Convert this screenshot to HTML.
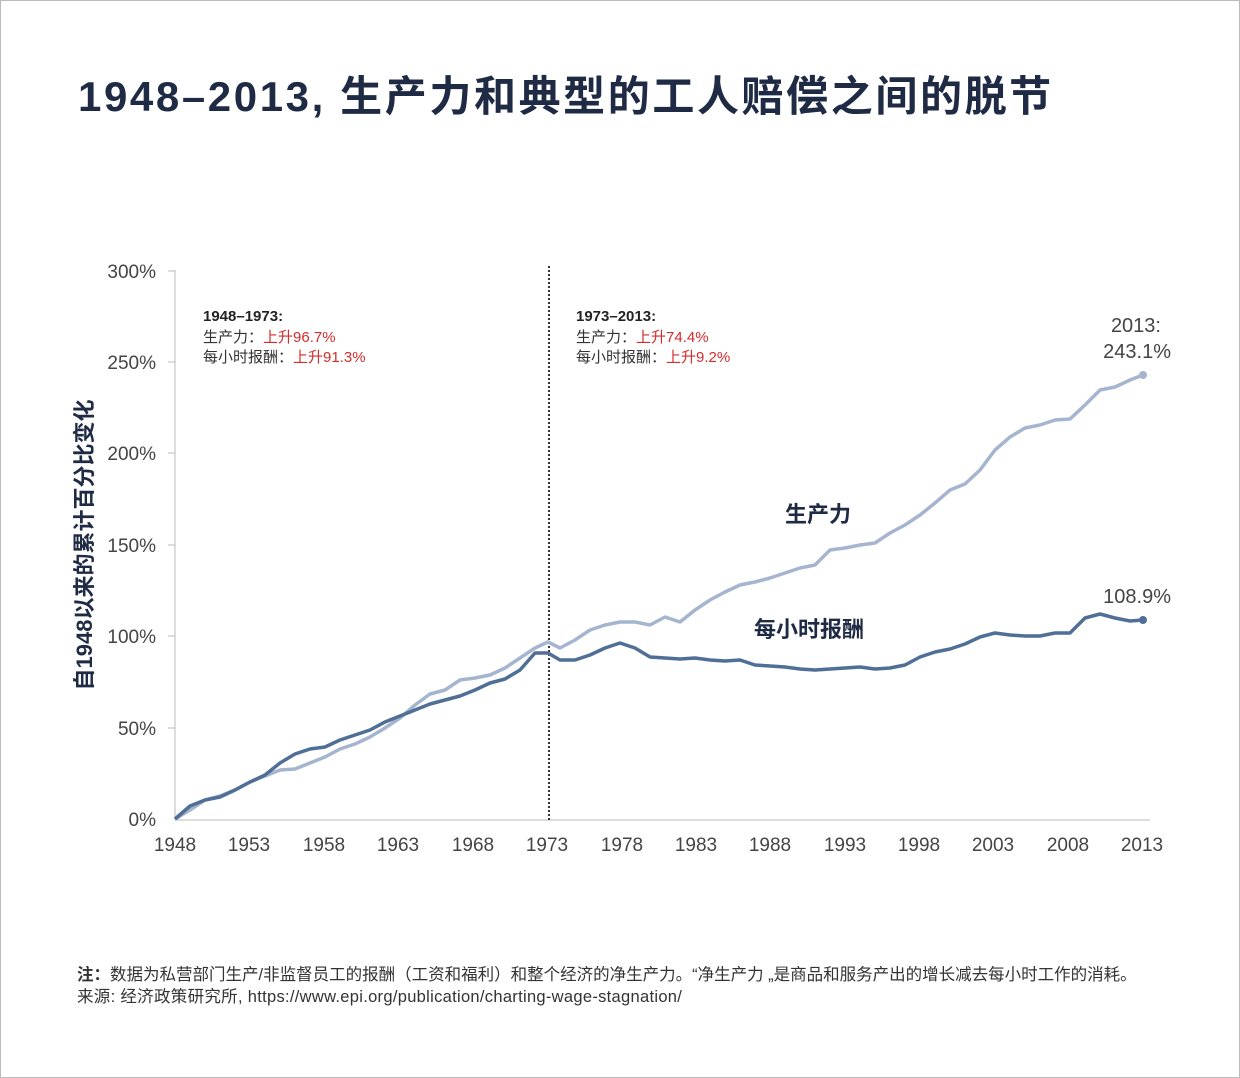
<!DOCTYPE html>
<html><head><meta charset="utf-8"><style>
body{margin:0;background:#fff;}
.wrap{position:relative;width:1238px;height:1076px;border:1px solid #b9bcbf;overflow:hidden;font-family:"Liberation Sans","Noto Sans CJK SC",sans-serif;}
.t{position:absolute;white-space:nowrap;}
</style></head><body><div class="wrap">
<div class="t" style="left:77px;top:62px;font-size:42px;font-weight:bold;color:#1f2a44;letter-spacing:2.6px;">1948–2013, 生产力和典型的工人赔偿之间的脱节</div>
<svg width="1240" height="1078" style="position:absolute;left:-1px;top:-1px" font-family="Liberation Sans, Noto Sans CJK SC, sans-serif">
<line x1="175" y1="270" x2="175" y2="820" stroke="#bbb"/>
<line x1="175" y1="820" x2="1150" y2="820" stroke="#bbb"/>
<g stroke="#bbb">
<line x1="168" y1="271" x2="175" y2="271"/><line x1="168" y1="362" x2="175" y2="362"/><line x1="168" y1="453" x2="175" y2="453"/><line x1="168" y1="545" x2="175" y2="545"/><line x1="168" y1="636" x2="175" y2="636"/><line x1="168" y1="728" x2="175" y2="728"/>
</g>
<g font-size="19" fill="#444" text-anchor="end">
<text x="156" y="278">300%</text><text x="156" y="369">250%</text><text x="156" y="460">200%</text><text x="156" y="552">150%</text><text x="156" y="643">100%</text><text x="156" y="735">50%</text><text x="156" y="826">0%</text>
</g>
<g font-size="19" fill="#444" text-anchor="middle">
<text x="175" y="851">1948</text><text x="249" y="851">1953</text><text x="324" y="851">1958</text><text x="398" y="851">1963</text><text x="473" y="851">1968</text><text x="547" y="851">1973</text><text x="622" y="851">1978</text><text x="696" y="851">1983</text><text x="770" y="851">1988</text><text x="845" y="851">1993</text><text x="919" y="851">1998</text><text x="993" y="851">2003</text><text x="1068" y="851">2008</text><text x="1142" y="851">2013</text>
</g>
<text transform="translate(92,545) rotate(-90)" font-size="22" font-weight="bold" fill="#1f2a44" text-anchor="middle">自1948以来的累计百分比变化</text>
<line x1="549" y1="266" x2="549" y2="820" stroke="#333" stroke-width="2" stroke-dasharray="2,2"/>
<polyline fill="none" stroke="#a6b5cf" stroke-width="3.5" stroke-linejoin="round" points="175,819 190,810 205,800 220,796 235,790 250,782 265,776 280,770 295,769 310,763 325,757 340,749 355,744 370,737 385,728 400,718 415,705 430,694 445,690 460,680 475,678 490,675 505,668 520,658 535,648 548,642 560,648 575,640 590,630 605,625 620,622 635,622 650,625 665,617 680,622 695,610 710,600 725,592 740,585 755,582 770,578 785,573 800,568 815,565 830,550 845,548 860,545 875,543 890,533 905,525 920,515 935,503 950,490 965,484 980,470 995,450 1010,437 1025,428 1040,425 1055,420 1070,419 1085,405 1100,390 1115,387 1130,380 1143,375"/>
<polyline fill="none" stroke="#4f6f96" stroke-width="3.5" stroke-linejoin="round" points="175,819 190,806 205,800 220,797 235,790 250,782 265,775 280,763 295,754 310,749 325,747 340,740 355,735 370,730 385,722 400,716 415,710 430,704 445,700 460,696 475,690 490,683 505,679 520,670 535,653 548,653 560,660 575,660 590,655 605,648 620,643 635,648 650,657 665,658 680,659 695,658 710,660 725,661 740,660 755,665 770,666 785,667 800,669 815,670 830,669 845,668 860,667 875,669 890,668 905,665 920,657 935,652 950,649 965,644 980,637 995,633 1010,635 1025,636 1040,636 1055,633 1070,633 1085,618 1100,614 1115,618 1130,621 1143,620"/>
<circle cx="1143" cy="375" r="4" fill="#a6b5cf"/>
<circle cx="1143" cy="620" r="4" fill="#4f6f96"/>
<g font-size="15">
<text x="203" y="321" font-weight="bold" fill="#222">1948–1973:</text>
<text x="203" y="342" fill="#333">生产力：<tspan fill="#d62b2b">上升96.7%</tspan></text>
<text x="203" y="362" fill="#333">每小时报酬：<tspan fill="#d62b2b">上升91.3%</tspan></text>
<text x="576" y="321" font-weight="bold" fill="#222">1973–2013:</text>
<text x="576" y="342" fill="#333">生产力：<tspan fill="#d62b2b">上升74.4%</tspan></text>
<text x="576" y="362" fill="#333">每小时报酬：<tspan fill="#d62b2b">上升9.2%</tspan></text>
</g>
<g font-size="20" fill="#444" text-anchor="end">
<text x="1161" y="332">2013:</text><text x="1171" y="358">243.1%</text>
<text x="1171" y="603">108.9%</text>
</g>
<text x="785" y="522" font-size="22" font-weight="bold" fill="#1f2a44">生产力</text>
<text x="754" y="637" font-size="22" font-weight="bold" fill="#1f2a44">每小时报酬</text>
</svg>
<div class="t" style="left:76px;top:960px;font-size:16.5px;color:#333;"><b>注：</b>数据为私营部门生产/非监督员工的报酬（工资和福利）和整个经济的净生产力。“净生产力 „是商品和服务产出的增长减去每小时工作的消耗。</div>
<div class="t" style="left:76px;top:982px;font-size:16.5px;color:#333;letter-spacing:0.3px;">来源: 经济政策研究所, https://www.epi.org/publication/charting-wage-stagnation/</div>
</div></body></html>
